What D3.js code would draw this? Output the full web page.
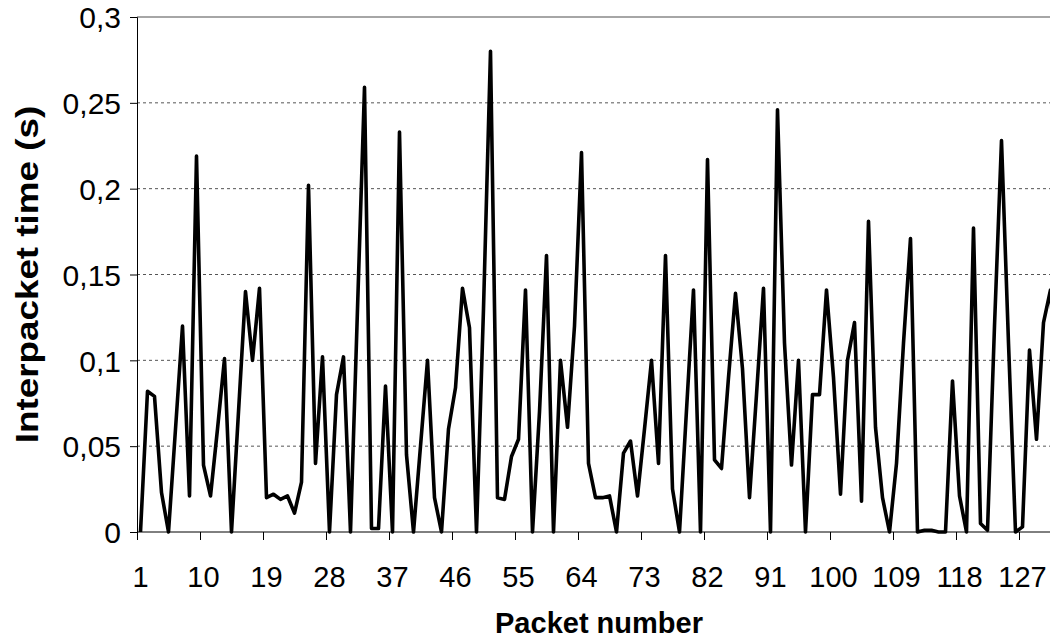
<!DOCTYPE html>
<html>
<head>
<meta charset="utf-8">
<script src="https://cdn.jsdelivr.net/npm/d3@7"></script>
<style>
  body { margin: 0; background: #fff; }
  svg { display: block; font-family: "Liberation Sans", Arial, sans-serif; }
  .grid line { stroke: #555; stroke-dasharray: 3,3; stroke-width: 1; }
</style>
</head>
<body>
<div id="chart"></div>
<script>
// packet interarrival times
const packets = d3.range(1, 133);
const interTimes = [
  0, 0.082, 0.079, 0.023, 0, 0.06, 0.12, 0.021, 0.219, 0.039,
  0.021, 0.06, 0.101, 0, 0.07, 0.14, 0.1, 0.142, 0.02, 0.022,
  0.019, 0.021, 0.011, 0.029, 0.202, 0.04, 0.102, 0, 0.08, 0.102,
  0, 0.13, 0.259, 0.002, 0.002, 0.085, 0, 0.233, 0.045, 0,
  0.05, 0.1, 0.02, 0, 0.06, 0.084, 0.142, 0.119, 0, 0.13,
  0.28, 0.02, 0.019, 0.044, 0.054, 0.141, 0, 0.07, 0.161, 0,
  0.1, 0.061, 0.12, 0.221, 0.04, 0.02, 0.02, 0.021, 0, 0.046,
  0.053, 0.021, 0.06, 0.1, 0.04, 0.161, 0.025, 0, 0.071, 0.141,
  0, 0.217, 0.042, 0.037, 0.09, 0.139, 0.095, 0.02, 0.08, 0.142,
  0, 0.246, 0.11, 0.039, 0.1, 0, 0.08, 0.08, 0.141, 0.09,
  0.022, 0.1, 0.122, 0.018, 0.181, 0.061, 0.02, 0, 0.04, 0.11,
  0.171, 0, 0.001, 0.001, 0, 0, 0.088, 0.021, 0, 0.177,
  0.005, 0.001, 0.12, 0.228, 0.11, 0, 0.003, 0.106, 0.054, 0.122,
  0.141, 0.08
];
const yTicks = [0, 0.05, 0.1, 0.15, 0.2, 0.25, 0.3];
const xTickLabels = d3.range(1, 133, 9);   // 1, 10, 19, ... 127

const margin = {top: 17, left: 137};
const bandW = 7;
const width = packets.length * bandW;
const height = 515;

const svg = d3.select("#chart").append("svg")
    .attr("width", 1050)
    .attr("height", 638);

const g = svg.append("g")
    .attr("transform", `translate(${margin.left},${margin.top})`);

const x = d3.scaleBand().domain(packets).range([0, width]).padding(0);
const y = d3.scaleLinear().domain([0, 0.3]).range([height, 0]);

const locale = d3.formatLocale({decimal: ",", thousands: ".", grouping: [3], currency: ["", ""]});
const fmt = locale.format(".2~f");

// dashed gridlines
g.append("g")
    .attr("class", "grid")
    .selectAll("line")
    .data(yTicks.filter(d => d > 0 && d < 0.3))
    .join("line")
      .attr("x1", 0)
      .attr("x2", width)
      .attr("y1", d => y(d))
      .attr("y2", d => y(d));

// top border of plot area
g.append("line")
    .attr("x1", 0).attr("x2", width)
    .attr("y1", 0).attr("y2", 0)
    .attr("stroke", "#888").attr("stroke-width", 1.5);

// y axis
const yAxis = d3.axisLeft(y).tickValues(yTicks).tickFormat(fmt).tickSize(7).tickPadding(9);
g.append("g")
    .call(yAxis)
    .call(a => a.select(".domain").attr("stroke", "#000"))
    .call(a => a.selectAll(".tick text")
        .attr("font-size", 30).attr("fill", "#000")
        .attr("font-family", "Liberation Sans, Arial, sans-serif")
        .attr("dy", "0.36em"));

// x axis: line + ticks at category boundaries, labels at category centres
const xAxisG = g.append("g").attr("transform", `translate(0,${height})`);
xAxisG.append("line")
    .attr("x1", 0).attr("x2", width)
    .attr("stroke", "#000").attr("stroke-width", 1);
xAxisG.selectAll(".tick")
    .data(xTickLabels)
    .join("line")
      .attr("x1", d => x(d) + 0.5)
      .attr("x2", d => x(d) + 0.5)
      .attr("y1", 0).attr("y2", 8)
      .attr("stroke", "#000");
xAxisG.selectAll(".lbl")
    .data(xTickLabels)
    .join("text")
      .attr("x", d => x(d) + bandW / 2)
      .attr("y", 587 - margin.top - height)
      .attr("text-anchor", "middle")
      .attr("font-size", 29)
      .text(d => d);

// the series
const line = d3.line()
    .x((d, i) => x(packets[i]) + bandW / 2)
    .y(d => y(d));

g.append("path")
    .datum(interTimes)
    .attr("fill", "none")
    .attr("stroke", "#000")
    .attr("stroke-width", 3.6)
    .attr("stroke-linejoin", "round")
    .attr("d", line);

// axis titles
svg.append("text")
    .attr("x", margin.left + width / 2)
    .attr("y", 633)
    .attr("text-anchor", "middle")
    .attr("font-size", 29)
    .attr("font-weight", "bold")
    .text("Packet number");

svg.append("text")
    .attr("transform", `translate(38,${margin.top + height / 2}) scale(1,1.15) rotate(-90)`)
    .attr("text-anchor", "middle")
    .attr("font-size", 32)
    .attr("font-weight", "bold")
    .text("Interpacket time (s)");
</script>
</body>
</html>
